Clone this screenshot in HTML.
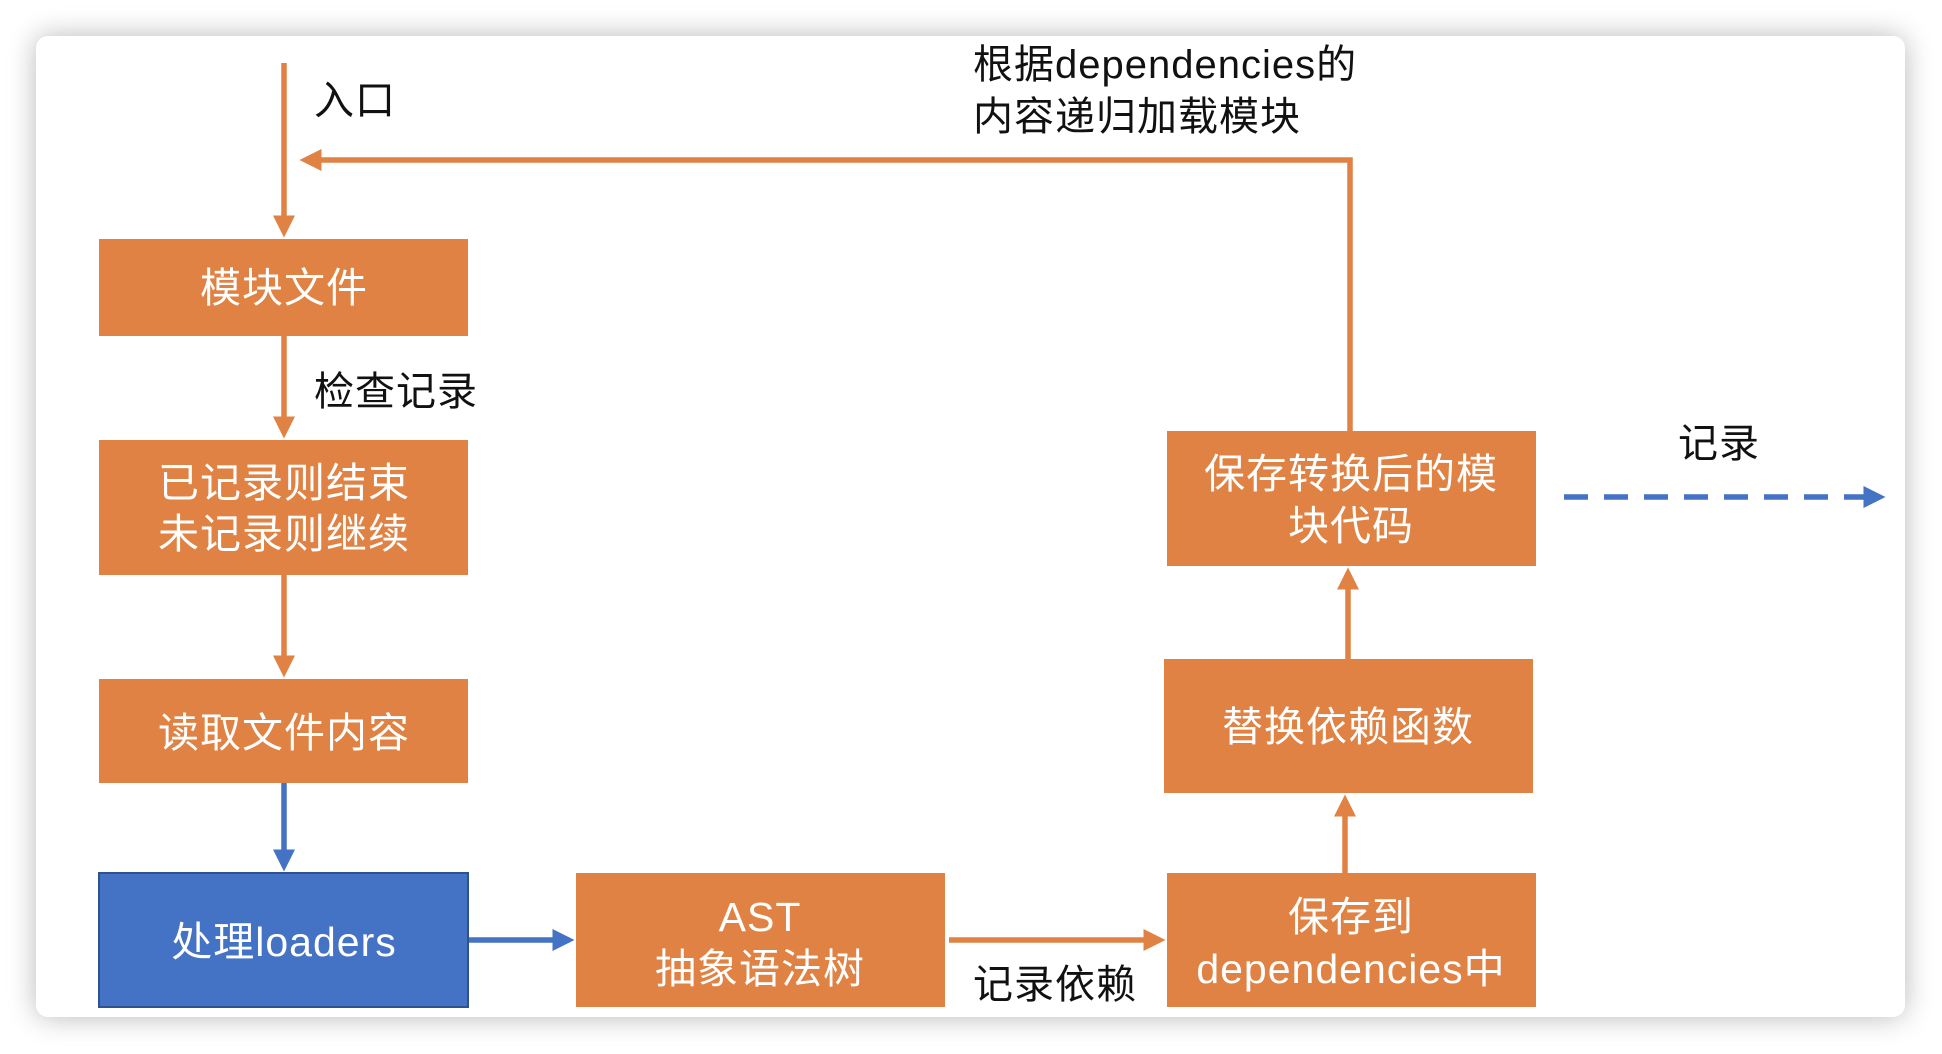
<!DOCTYPE html>
<html><head><meta charset="utf-8"><style>
html,body{margin:0;padding:0;background:#fff;}
body{width:1942px;height:1054px;position:relative;overflow:hidden;}
.card{position:absolute;left:36px;top:36px;width:1869px;height:981px;background:#fff;border-radius:12px;box-shadow:0 0 28px rgba(0,0,0,0.28);}
svg{position:absolute;left:0;top:0;}
text{font-family:"Liberation Sans","Noto Sans CJK SC",sans-serif;}
</style></head><body>
<div class="card"></div>
<svg width="1942" height="1054" viewBox="0 0 1942 1054">
<defs>
<marker id="ao" markerWidth="4" markerHeight="4" refX="3" refY="2" orient="auto"><path d="M0,0 L4,2 L0,4 Z" fill="#DF8244"/></marker>
<marker id="ab" markerWidth="4" markerHeight="4" refX="3" refY="2" orient="auto"><path d="M0,0 L4,2 L0,4 Z" fill="#4472C4"/></marker>
</defs>
<g stroke-width="5.5" fill="none">
<line x1="284" y1="63" x2="284" y2="232" stroke="#DF8244" marker-end="url(#ao)"/>
<polyline points="1350,431 1350,160 305,160" stroke="#DF8244" marker-end="url(#ao)"/>
<line x1="284" y1="336" x2="284" y2="433" stroke="#DF8244" marker-end="url(#ao)"/>
<line x1="284" y1="575" x2="284" y2="672" stroke="#DF8244" marker-end="url(#ao)"/>
<line x1="284" y1="783" x2="284" y2="866" stroke="#4472C4" marker-end="url(#ab)"/>
<line x1="468" y1="940" x2="569" y2="940" stroke="#4472C4" marker-end="url(#ab)"/>
<line x1="949" y1="940" x2="1160" y2="940" stroke="#DF8244" marker-end="url(#ao)"/>
<line x1="1345" y1="873" x2="1345" y2="800" stroke="#DF8244" marker-end="url(#ao)"/>
<line x1="1348" y1="659" x2="1348" y2="573" stroke="#DF8244" marker-end="url(#ao)"/>
<line x1="1564" y1="497" x2="1880" y2="497" stroke="#4472C4" stroke-dasharray="24,16" marker-end="url(#ab)"/>
</g>
<g fill="#DF8244">
<rect x="99" y="239" width="369" height="97"/>
<rect x="99" y="440" width="369" height="135"/>
<rect x="99" y="679" width="369" height="104"/>
<rect x="576" y="873" width="369" height="134"/>
<rect x="1167" y="873" width="369" height="134"/>
<rect x="1164" y="659" width="369" height="134"/>
<rect x="1167" y="431" width="369" height="135"/>
</g>
<rect x="99" y="873" width="369" height="134" fill="#4472C4" stroke="#2F528F" stroke-width="2"/>
<g fill="#fff" font-size="41" text-anchor="middle" letter-spacing="1">
<text x="284" y="302">模块文件</text>
<text x="284" y="497">已记录则结束</text>
<text x="284" y="548">未记录则继续</text>
<text x="284" y="747">读取文件内容</text>
<text x="284" y="956">处理loaders</text>
<text x="760" y="931">AST</text>
<text x="760" y="983">抽象语法树</text>
<text x="1351" y="931">保存到</text>
<text x="1351" y="983">dependencies中</text>
<text x="1348" y="741">替换依赖函数</text>
<text x="1351" y="488">保存转换后的模</text>
<text x="1351" y="540">块代码</text>
</g>
<g fill="#111" font-size="40" letter-spacing="1">
<text x="314" y="114">入口</text>
<text x="314" y="405">检查记录</text>
<text x="973" y="78">根据dependencies的</text>
<text x="973" y="130">内容递归加载模块</text>
<text x="973" y="998">记录依赖</text>
<text x="1678" y="457">记录</text>
</g>
</svg>
</body></html>
